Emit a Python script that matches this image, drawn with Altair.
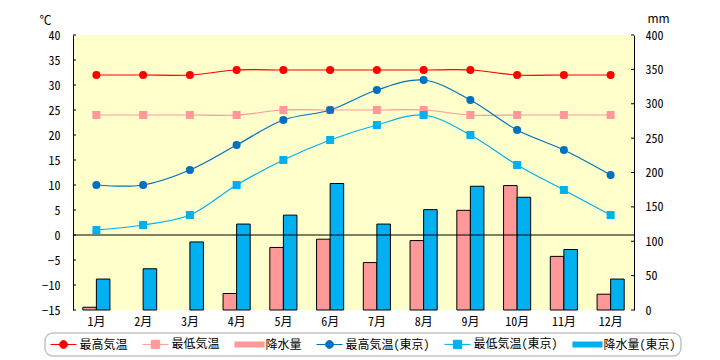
import altair as alt
import pandas as pd

months = ["1月", "2月", "3月", "4月", "5月", "6月", "7月", "8月", "9月", "10月", "11月", "12月"]
high = [32, 32, 32, 33, 33, 33, 33, 33, 33, 32, 32, 32]
low = [24, 24, 24, 24, 25, 25, 25, 25, 24, 24, 24, 24]
rain = [4, 0, 0, 24, 91, 103, 69, 101, 145, 181, 78, 23]
tokyo_high = [10, 10, 13, 18, 23, 25, 29, 31, 27, 21, 17, 12]
tokyo_low = [1, 2, 4, 10, 15, 19, 22, 24, 20, 14, 9, 4]
tokyo_rain = [45, 60, 99, 125, 138, 184, 125, 146, 180, 164, 88, 45]

temp_ticks = [-15, -10, -5, 0, 5, 10, 15, 20, 25, 30, 35, 40]
mm_ticks = [0, 50, 100, 150, 200, 250, 300, 350, 400]

series_names = ["最高気温", "最低気温", "降水量", "最高気温(東京)", "最低気温(東京)", "降水量(東京)"]
series_colors = ["#FF0000", "#FF9999", "#FF9999", "#0070C0", "#00B0F0", "#00B0F0"]
line_series = ["最高気温", "最低気温", "最高気温(東京)", "最低気温(東京)"]
line_shapes = ["circle", "square", "circle", "square"]
rain_series = ["降水量", "降水量(東京)"]

FONT = "Noto Sans Mono CJK JP, Noto Sans CJK JP"
FONT_P = "Noto Sans CJK JP"

temp_rows = []
for name, vals in zip(line_series, [high, low, tokyo_high, tokyo_low]):
    for m, v in zip(months, vals):
        temp_rows.append({"month": m, "series": name, "temp": v})
temp_df = pd.DataFrame(temp_rows)

rain_rows = []
for name, vals in zip(rain_series, [rain, tokyo_rain]):
    for m, v in zip(months, vals):
        rain_rows.append({"month": m, "series": name, "mm": v})
rain_df = pd.DataFrame(rain_rows)

# legend symbol paths (unit = half of symbol size)
line_circle = "M-1,0H1M-0.3,0A0.3,0.3,0,1,0,0.3,0A0.3,0.3,0,1,0,-0.3,0Z"
line_square = "M-1,0H1M-0.32,-0.32H0.32V0.32H-0.32Z"
bar_rect = "M-1.1,-0.17H1.1V0.17H-1.1Z"
sym_paths = [line_circle, line_square, bar_rect, line_circle, line_square, bar_rect]

shape_expr = ""
for name, p in zip(series_names[:-1], sym_paths[:-1]):
    shape_expr += f"datum.value === '{name}' ? '{p}' : "
shape_expr += f"'{sym_paths[-1]}'"
is_bar = "(datum.value === '降水量' || datum.value === '降水量(東京)')"

legend = alt.Legend(
    title=None,
    orient="none",
    legendX=-28,
    legendY=298,
    direction="horizontal",
    columns=6,
    labelFont=FONT,
    labelFontSize=12,
    labelColor="black",
    symbolSize=676,
    symbolOffset=7.5,
    labelOffset=10,
    columnPadding=12,
    padding=5,
    strokeColor="#C4C4C4",
    cornerRadius=8,
    fillColor="white",
    symbolType=alt.ExprRef(expr=shape_expr),
    symbolStrokeColor=alt.ExprRef(expr=f"{is_bar} ? 'black' : scale('color', datum.value)"),
    symbolStrokeWidth=alt.ExprRef(expr=f"{is_bar} ? 1.5 : 1"),
    symbolOpacity=1,
)

color_scale = alt.Scale(domain=series_names, range=series_colors)
color_enc = alt.Color("series:N", scale=color_scale, legend=None)

x_enc = alt.X(
    "month:N",
    sort=months,
    scale=alt.Scale(domain=months, paddingInner=0.42, paddingOuter=0.21),
    axis=alt.Axis(
        title=None, labelAngle=0, domain=False, ticks=False, tickSize=0, labelPadding=6,
        labelFont=FONT, labelFontSize=12, labelColor="black", grid=False,
    ),
)

temp_scale = alt.Scale(domain=[-15, 40], nice=False, zero=False)
temp_axis = alt.Axis(
    title="℃", titleAngle=0, titleX=-28, titleY=-15, titleAlign="center", titleBaseline="middle",
    titleFont=FONT, titleFontSize=12, titleFontWeight="normal", titleColor="black",
    orient="left", values=temp_ticks, ticks=False, tickSize=0, grid=False,
    domainColor="black", domainWidth=1, labelPadding=13,
    labelFont=FONT, labelFontSize=12, labelColor="black",
)
mm_scale = alt.Scale(domain=[0, 400], nice=False)
mm_axis = alt.Axis(
    title="mm", titleAngle=0, titleX=24, titleY=-17, titleAlign="center", titleBaseline="middle",
    titleFont=FONT_P, titleFontSize=12, titleFontWeight="normal", titleColor="black",
    orient="right", values=mm_ticks, ticks=False, tickSize=0, grid=False,
    domainColor="black", domainWidth=1, labelPadding=11,
    labelFont=FONT, labelFontSize=12, labelColor="black",
)

lines = alt.Chart(temp_df).mark_line(interpolate="catmull-rom", strokeWidth=1.2).encode(
    x=x_enc,
    y=alt.Y("temp:Q", scale=temp_scale, axis=temp_axis),
    color=color_enc,
)
points = alt.Chart(temp_df).mark_point(filled=True, opacity=1, size=64).encode(
    x=x_enc,
    y=alt.Y("temp:Q", scale=temp_scale, axis=temp_axis),
    color=color_enc,
    shape=alt.Shape("series:N", scale=alt.Scale(domain=line_series, range=line_shapes), legend=None),
)
zero_line = alt.Chart(pd.DataFrame({"temp": [0]})).mark_rule(color="black", strokeWidth=1).encode(
    y=alt.Y("temp:Q", scale=temp_scale, axis=temp_axis),
)
temp_tick_marks = alt.Chart(pd.DataFrame({"temp": temp_ticks})).mark_rule(color="black", strokeWidth=1).encode(
    y=alt.Y("temp:Q", scale=temp_scale, axis=temp_axis),
    x=alt.value(0),
    x2=alt.value(3),
)
temp_group = alt.layer(lines, points, zero_line, temp_tick_marks)

bars = alt.Chart(rain_df).transform_filter("datum.mm > 0").mark_bar(stroke="black", strokeWidth=1).encode(
    x=x_enc,
    xOffset=alt.XOffset("series:N", scale=alt.Scale(domain=rain_series, paddingInner=0, paddingOuter=0)),
    y=alt.Y("mm:Q", scale=mm_scale, axis=mm_axis),
    color=color_enc,
)
mm_tick_marks = alt.Chart(pd.DataFrame({"mm": mm_ticks})).mark_rule(color="black", strokeWidth=1).encode(
    y=alt.Y("mm:Q", scale=mm_scale, axis=mm_axis),
    x=alt.value(558),
    x2=alt.value(561),
)
mm_group = alt.layer(bars, mm_tick_marks)

legend_layer = (
    alt.Chart(pd.DataFrame({"series": series_names}))
    .transform_filter("false")
    .mark_point(filled=True)
    .encode(color=alt.Color("series:N", scale=color_scale, legend=legend))
)

chart = (
    alt.layer(legend_layer, mm_group, temp_group)
    .resolve_scale(y="independent")
    .properties(
        width=561,
        height=275,
        autosize=alt.AutoSizeParams(type="none"),
        padding={"left": 65, "top": 27, "right": 78, "bottom": 48},
        background="white",
    )
    .configure_view(fill="#FFFFCC", stroke=None)
    .configure_legend(strokeWidth=1.5)
)

chart.save("out.html", embed_options={"renderer": "svg", "actions": False})
